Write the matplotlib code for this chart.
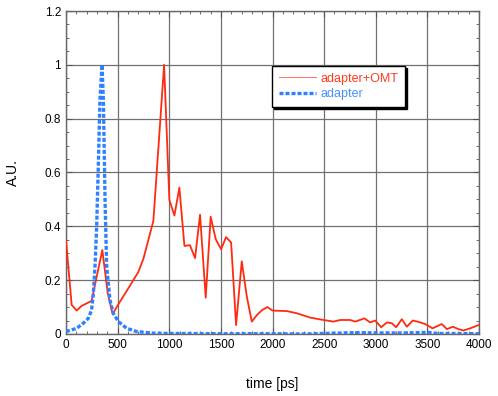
import matplotlib
matplotlib.use("Agg")
import matplotlib.pyplot as plt
from matplotlib.ticker import MultipleLocator, FuncFormatter

plt.rcParams['font.family'] = ['Liberation Sans', 'DejaVu Sans']

# adapter+OMT (red)
t_omt = [0, 55, 103, 150, 248, 352, 404, 452, 497, 604, 700, 750, 846, 900, 950,
         1001, 1050, 1098, 1147, 1200, 1250, 1298, 1353, 1401, 1450, 1502, 1550, 1599,
         1647, 1702, 1751, 1799, 1850, 1900, 1950, 2000, 2075, 2140, 2235, 2364, 2493,
         2590, 2655, 2752, 2800, 2890, 2945, 2994, 3052, 3107, 3155, 3197, 3252, 3300,
         3358, 3413, 3478, 3549, 3639, 3688, 3746, 3801, 3849, 3914, 3995]
y_omt = [0.35, 0.108, 0.087, 0.104, 0.123, 0.312, 0.152, 0.074, 0.104, 0.17, 0.23, 0.28,
         0.42, 0.72, 1.0, 0.498, 0.44, 0.544, 0.327, 0.33, 0.282, 0.443, 0.135, 0.436,
         0.352, 0.315, 0.36, 0.34, 0.033, 0.27, 0.139, 0.046, 0.071, 0.089, 0.1, 0.087,
         0.086, 0.085, 0.077, 0.061, 0.052, 0.046, 0.052, 0.052, 0.046, 0.058, 0.043,
         0.05, 0.025, 0.043, 0.04, 0.025, 0.055, 0.027, 0.05, 0.045, 0.037, 0.021,
         0.037, 0.018, 0.027, 0.018, 0.013, 0.021, 0.033]

# adapter (blue)
t_ad = [0, 103, 168, 216, 248, 265, 281, 297, 313, 329, 349, 362, 378, 394, 426, 458,
        507, 588, 685, 846, 1000, 1500, 2000, 2300, 2600, 2800, 3000, 3300, 3500, 3600, 4000]
y_ad = [0.009, 0.021, 0.04, 0.058, 0.089, 0.151, 0.25, 0.4, 0.622, 0.87, 1.0, 0.87, 0.5,
        0.25, 0.126, 0.077, 0.046, 0.021, 0.009, 0.003, 0.002, 0.001, 0.001, 0.0, 0.003,
        0.005, 0.004, 0.004, 0.006, 0.002, 0.001]

fig = plt.figure(figsize=(4.98, 3.96), dpi=100)
ax = fig.add_axes([0.1325, 0.1566, 0.8295, 0.8156])

ax.plot(t_omt, y_omt, color='#ff2a10', lw=1.3, label='adapter+OMT', zorder=3)
ax.plot(t_ad, y_ad, color='#2f80ff', lw=2.4, ls=(0, (1.2, 0.6)), label='adapter', zorder=3)

ax.set_xlim(0, 4000)
ax.set_ylim(0, 1.2)
ax.xaxis.set_major_locator(MultipleLocator(500))
ax.xaxis.set_minor_locator(MultipleLocator(100))
ax.yaxis.set_major_locator(MultipleLocator(0.2))
ax.yaxis.set_minor_locator(MultipleLocator(0.05))
ax.yaxis.set_major_formatter(FuncFormatter(lambda v, p: ('%g' % round(v, 2))))
ax.tick_params(which='both', direction='in', top=True, right=True, colors='#555555',
               labelcolor='black', labelsize=8.5)
ax.tick_params(which='major', length=4)
ax.tick_params(which='minor', length=2.5)
ax.grid(True, which='major', color='#707070', lw=0.9)
for s in ax.spines.values():
    s.set_color('#666666')
    s.set_linewidth(1.0)

ax.set_xlabel('time [ps]', fontsize=10, labelpad=19)
ax.set_ylabel('A.U.', fontsize=10, labelpad=18)

leg = ax.legend(loc='upper left', bbox_to_anchor=(0.499, 0.83), fontsize=9,
                frameon=True, fancybox=False,
                shadow={'color': 'black', 'alpha': 1.0, 'ox': 1.5, 'oy': -1.5},
                handlelength=3.0, borderpad=0.55, labelspacing=0.25,
                handletextpad=0.3, borderaxespad=0)
leg.get_frame().set_edgecolor('black')
leg.get_frame().set_linewidth(1.0)
leg.get_lines()[0].set_linewidth(0.7)
leg.get_lines()[0].set_color('#ff7060')
for txt, c in zip(leg.get_texts(), ['#ff3a20', '#4a90ff']):
    txt.set_color(c)

fig.savefig('out.png', dpi=100)
